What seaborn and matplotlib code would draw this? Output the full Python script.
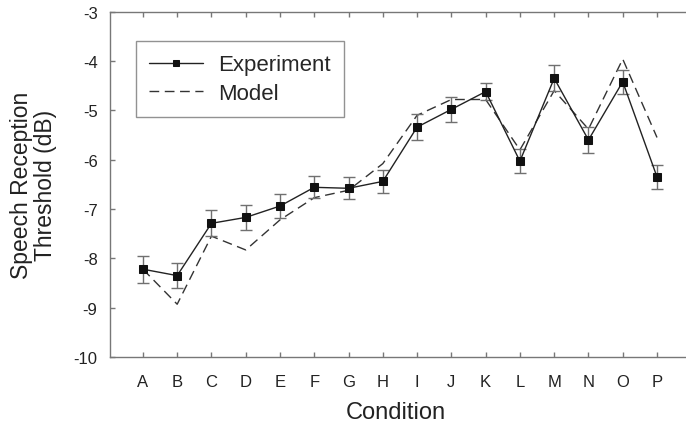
import matplotlib
matplotlib.use("Agg")
import matplotlib.pyplot as plt
import seaborn as sns
import pandas as pd
import numpy as np

conditions = list("ABCDEFGHIJKLMNOP")
experiment = [-8.22, -8.35, -7.29, -7.17, -6.94, -6.56, -6.58, -6.44,
              -5.34, -4.98, -4.62, -6.03, -4.35, -5.60, -4.42, -6.35]
experiment_err = [0.27, 0.25, 0.26, 0.25, 0.24, 0.22, 0.22, 0.23,
                  0.26, 0.26, 0.17, 0.25, 0.26, 0.27, 0.24, 0.25]
model = [-8.22, -8.93, -7.55, -7.83, -7.22, -6.77, -6.62, -6.08,
         -5.10, -4.78, -4.78, -5.80, -4.60, -5.38, -3.96, -5.55]

sns.set_theme(style="white")
plt.rcParams["font.family"] = ["Liberation Sans", "DejaVu Sans"]

df_exp = pd.DataFrame({"Condition": conditions, "SRT": experiment})
df_mod = pd.DataFrame({"Condition": conditions, "SRT": model})

fig = plt.figure(figsize=(6.86, 4.31), dpi=100)
ax = fig.add_axes([110 / 686, (431 - 358) / 431, (693 - 110) / 686, 345.3 / 431])

line_col = "#222222"
sns.lineplot(data=df_mod, x="Condition", y="SRT", ax=ax, color="#333333",
             linewidth=1.0, label="Model", sort=False)
ax.lines[-1].set_dashes([7, 4])
ax.errorbar(np.arange(len(conditions)), experiment, yerr=experiment_err,
            fmt="none", ecolor="#707070", elinewidth=1.0, capsize=4.5, capthick=1.0)
sns.lineplot(data=df_exp, x="Condition", y="SRT", ax=ax, color=line_col,
             linewidth=1.0, marker="s", markersize=6, markeredgecolor="#111111",
             markerfacecolor="#111111", label="Experiment", sort=False)

ax.set_xlim(-0.96, 16.05)
ax.set_ylim(-10, -3)
ax.set_yticks(np.arange(-10, -2, 1))
ax.set_yticklabels([str(v) for v in range(-10, -2)])

spine_col = "#777777"
for s in ["left", "bottom", "top"]:
    ax.spines[s].set_color(spine_col)
    ax.spines[s].set_linewidth(1.0)
ax.spines["right"].set_visible(False)

ax.tick_params(axis="x", direction="in", length=3.5, width=1.0, color=spine_col,
               top=True, bottom=True, labelsize=12, labelcolor="#222222", pad=12)
ax.tick_params(axis="y", direction="in", length=3.5, width=1.0, color=spine_col,
               left=True, right=False, labelsize=12, labelcolor="#222222", pad=9)

ax.set_xlabel("Condition", fontsize=17, color="#222222")
ax.xaxis.set_label_coords(0.49, -0.128)
ax.set_ylabel("Speech Reception\nThreshold (dB)", fontsize=16.5, color="#222222",
              linespacing=1.06, labelpad=12)

handles, labels = ax.get_legend_handles_labels()
order = [labels.index("Experiment"), labels.index("Model")]
leg = ax.legend([handles[i] for i in order], [labels[i] for i in order],
                loc="upper left", bbox_to_anchor=(0.0446, 0.915), borderaxespad=0,
                fontsize=16, frameon=True, fancybox=False, handlelength=2.4,
                handletextpad=0.7, borderpad=0.6, labelspacing=0.35)
leg.get_frame().set_edgecolor(spine_col)
leg.get_frame().set_linewidth(1.0)
for h in leg.legend_handles:
    h.set_markersize(5)

fig.savefig("out.png", dpi=100)
